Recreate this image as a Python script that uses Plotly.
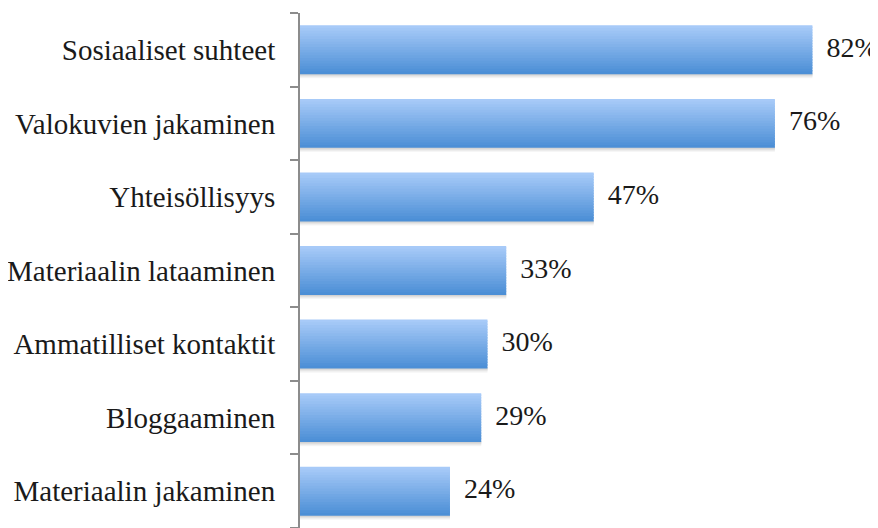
import plotly.graph_objects as go

categories = ["Sosiaaliset suhteet", "Valokuvien jakaminen", "Yhteisöllisyys",
              "Materiaalin lataaminen", "Ammatilliset kontaktit", "Bloggaaminen",
              "Materiaalin jakaminen"]
values = [82, 76, 47, 33, 30, 29, 24]
value_labels = ["82%", "76%", "47%", "33%", "30%", "29%", "24%"]

FONT = "Liberation Serif"
bar_w = 0.665
n_strips = 18
light = (167, 202, 248)
dark = (76, 143, 214)

fig = go.Figure()

# soft shadow below each bar (lightest / widest first, darker on top)
shadow_cols = ["#f6f6f6", "#ececec", "#e0e0e0", "#d2d2d2"]
sh = 0.014
n_sh = len(shadow_cols)
for k, c in enumerate(shadow_cols):
    depth = (n_sh - k) * sh
    fig.add_trace(go.Bar(
        y=categories, x=values, orientation="h",
        width=depth + 0.02, offset=-bar_w / 2 - depth,
        marker=dict(color=c, line=dict(width=0)),
        hoverinfo="skip", showlegend=False))

# vertical gradient made of thin strips (dark at bottom, light at top)
sw = bar_w / n_strips
for i in range(n_strips):
    t = i / (n_strips - 1)
    col = tuple(round(dark[j] + (light[j] - dark[j]) * t) for j in range(3))
    w = sw * 1.6 if i < n_strips - 1 else sw
    fig.add_trace(go.Bar(
        y=categories, x=values, orientation="h",
        width=w, offset=-bar_w / 2 + i * sw,
        marker=dict(color="rgb(%d,%d,%d)" % col, line=dict(width=0)),
        hoverinfo="skip", showlegend=False))

# value labels
fig.add_trace(go.Scatter(
    y=categories, x=values, mode="text",
    text=["\u00a0\u00a0" + s for s in value_labels],
    textposition="middle right",
    textfont=dict(family=FONT, size=28, color="#1a1a1a"),
    cliponaxis=False,
    hoverinfo="skip", showlegend=False))

# the page body has an 8px margin, so the figure is 8px smaller than the window
fig.update_layout(
    width=870, height=520,
    margin=dict(l=292, r=0, t=5, b=0, autoexpand=False),
    paper_bgcolor="white", plot_bgcolor="white",
    barmode="overlay",
    xaxis=dict(range=[0, 92.5], visible=False, fixedrange=True, automargin=False),
    yaxis=dict(
        categoryorder="array", categoryarray=categories[::-1],
        range=[-0.5, 6.5], automargin=False,
        showline=True, linecolor="#8c8c8c", linewidth=2,
        ticks="outside", tickson="boundaries", ticklen=8,
        tickcolor="#8c8c8c", tickwidth=2,
        ticklabelstandoff=17,
        tickfont=dict(family=FONT, size=29, color="#1a1a1a"),
        showgrid=False, zeroline=False),
)

fig.write_html("out.html")
